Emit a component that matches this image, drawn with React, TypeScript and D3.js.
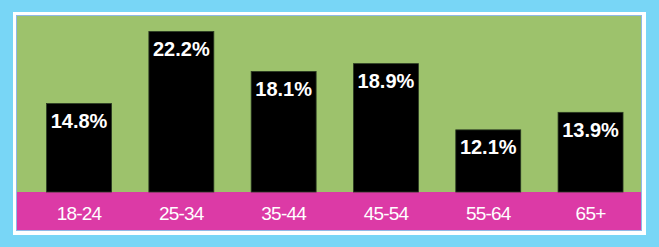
import React from "react";
import * as d3 from "d3";

const ageGroups = ["18-24", "25-34", "35-44", "45-54", "55-64", "65+"];
const shares = [14.8, 22.2, 18.1, 18.9, 12.1, 13.9];

const W = 659;
const H = 247;
const frame = { x0: 13, y0: 12, x1: 646, y1: 235 };
const plot = { x0: 17, y0: 16, x1: 641, y1: 230 };
const baseY = 192;

export default function App() {
  const x = d3
    .scaleBand<string>()
    .domain(ageGroups)
    .range([21, 648.6])
    .paddingInner(0.365)
    .paddingOuter(0.25);
  const y = d3.scaleLinear().domain([5.72, 22.2]).range([baseY, 31.5]);

  return (
    <svg
      width={W}
      height={H}
      style={{ position: "absolute", left: 0, top: 0 }}
    >
      <rect x={0} y={0} width={W} height={H} fill="#78d6f6" />
      <rect
        x={frame.x0}
        y={frame.y0}
        width={frame.x1 - frame.x0}
        height={frame.y1 - frame.y0}
        fill="#ffffff"
      />
      <rect
        x={plot.x0 - 1}
        y={plot.y0 - 1}
        width={plot.x1 - plot.x0 + 2}
        height={plot.y1 - plot.y0 + 2}
        fill="#8fb8e6"
      />
      <rect
        x={plot.x0}
        y={plot.y0}
        width={plot.x1 - plot.x0}
        height={baseY - plot.y0}
        fill="#9dc26c"
      />
      <rect
        x={plot.x0}
        y={baseY}
        width={plot.x1 - plot.x0}
        height={plot.y1 - baseY}
        fill="#dc3aa6"
      />
      {ageGroups.map((g, i) => {
        const bx = x(g)!;
        const bw = x.bandwidth();
        const top = y(shares[i]);
        return (
          <g key={g}>
            <rect
              x={bx}
              y={top}
              width={bw}
              height={baseY - top}
              fill="#000000"
              stroke="#2a3a22"
              strokeWidth={0.8}
            />
            <text
              x={bx + bw / 2}
              y={top + 24.5}
              textAnchor="middle"
              fill="#ffffff"
              fontFamily="'Liberation Sans', Arial, sans-serif"
              fontWeight="bold"
              fontSize={20}
            >
              {shares[i].toFixed(1)}%
            </text>
            <text
              x={bx + bw / 2}
              y={220}
              textAnchor="middle"
              fill="#ffffff"
              fontFamily="'Liberation Sans', Arial, sans-serif"
              fontSize={19}
              letterSpacing={-0.8}
            >
              {g}
            </text>
          </g>
        );
      })}
    </svg>
  );
}
